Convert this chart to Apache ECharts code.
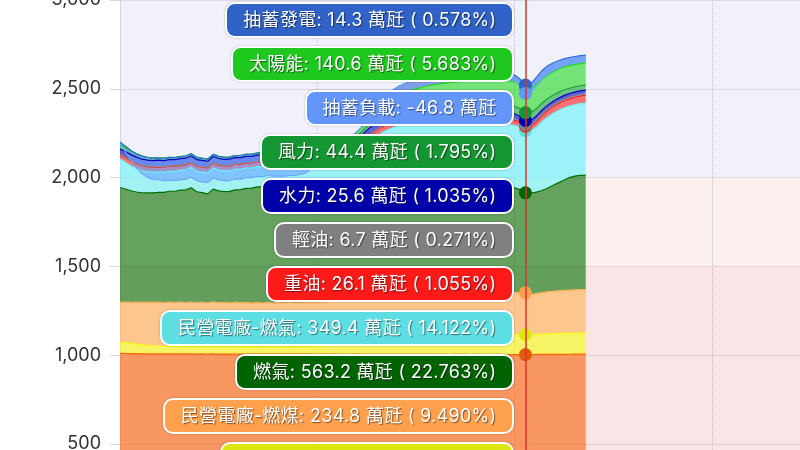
<!DOCTYPE html>
<html>
<head>
<meta charset="utf-8">
<script src="https://cdn.jsdelivr.net/npm/echarts@6.0.0/dist/echarts.min.js"></script>
<style>
html,body{margin:0;padding:0;overflow:hidden;background:#fff;}
#main{width:800px;height:450px;overflow:hidden;position:relative;}
.tipbox{box-sizing:border-box;border:2px solid #fff;border-radius:10px;padding:5px 16px;margin-bottom:8px;
  color:#fff;font-size:18px;line-height:22px;letter-spacing:0.3px;white-space:nowrap;text-shadow:1px 1px 1px rgba(0,0,0,0.5);
  box-shadow:0 0 2px rgba(0,0,0,0.3);font-family:Inter,"Noto Sans CJK TC",sans-serif;}
.tipwrap{display:flex;flex-direction:column;align-items:flex-end;}
</style>
</head>
<body>
<div id="main"></div>
<script>
// ---------- categories (10-minute slots over one day) ----------
const times = [
"00:00","00:10","00:20","00:30","00:40","00:50","01:00","01:10","01:20","01:30","01:40","01:50",
"02:00","02:10","02:20","02:30","02:40","02:50","03:00","03:10","03:20","03:30","03:40","03:50",
"04:00","04:10","04:20","04:30","04:40","04:50","05:00","05:10","05:20","05:30","05:40","05:50",
"06:00","06:10","06:20","06:30","06:40","06:50","07:00","07:10","07:20","07:30","07:40","07:50",
"08:00","08:10","08:20","08:30","08:40","08:50","09:00","09:10","09:20","09:30","09:40","09:50",
"10:00","10:10","10:20","10:30","10:40","10:50","11:00","11:10","11:20","11:30","11:40","11:50",
"12:00","12:10","12:20","12:30","12:40","12:50","13:00","13:10","13:20","13:30","13:40","13:50",
"14:00","14:10","14:20","14:30","14:40","14:50","15:00","15:10","15:20","15:30","15:40","15:50",
"16:00","16:10","16:20","16:30","16:40","16:50","17:00","17:10","17:20","17:30","17:40","17:50",
"18:00","18:10","18:20","18:30","18:40","18:50","19:00","19:10","19:20","19:30","19:40","19:50",
"20:00","20:10","20:20","20:30","20:40","20:50","21:00","21:10","21:20","21:30","21:40","21:50",
"22:00","22:10","22:20","22:30","22:40","22:50","23:00","23:10","23:20","23:30","23:40","23:50",
"24:00"
];

// ---------- series values (萬瓩), stacked bottom -> top ----------
const nuclear = [
286.1,286.0,286.2,286.1,285.9,286.0,286.1,285.8,285.9,286.0,
286.1,286.2,286.0,285.9,285.8,286.0,286.1,285.9,285.8,285.9,
286.0,285.9,285.8,285.7,285.9,286.0,285.8,285.9,285.7,285.8,
285.9,286.0,285.8,285.7,285.9,285.8,285.6,285.7,285.9,285.8,
285.7,285.6,285.8,285.9,285.7,285.6,285.8,285.7,285.6,285.8,
285.9,285.7,285.6,285.8,285.7,285.9,285.8,285.6,285.7,285.8,
285.6,285.7,285.9,285.8,285.7,285.6,285.8,285.7,285.9,285.8,
285.6,285.7,285.8,285.6,285.7,285.7,285.8,285.6,285.7,285.9,
285.8,285.7,285.6,285.8,285.7,285.6];
const coal = [
723.9,723.2,722.6,722.0,721.5,721.1,720.8,721.3,720.9,721.4,
720.7,721.2,720.6,721.0,720.4,720.9,720.3,720.8,720.2,720.6,
720.1,720.5,719.9,720.4,719.8,720.2,719.7,720.1,719.6,720.0,
719.5,719.9,719.4,719.8,719.3,719.7,719.2,719.6,719.1,719.5,
719.0,719.4,718.9,719.3,718.8,719.2,718.7,719.1,718.6,719.0,
718.5,718.9,718.4,718.8,718.3,718.7,718.2,718.6,718.1,718.5,
718.0,718.4,717.9,718.3,717.8,718.2,717.7,718.1,717.6,718.0,
717.5,717.9,717.4,717.8,717.6,717.8,718.1,718.3,718.6,718.8,
719.0,719.1,719.3,719.4,719.5,719.6];
const cogen = [
63.0,60.5,57.0,53.5,50.0,47.5,45.5,44.0,43.0,42.5,
42.0,42.3,41.8,42.1,41.6,41.9,41.5,41.8,41.4,41.7,
41.3,41.6,41.2,41.5,41.1,41.4,41.0,41.3,41.1,41.4,
41.2,41.5,41.3,41.6,41.8,42.3,43.0,45.0,48.0,52.0,
56.0,61.0,66.0,71.0,76.0,81.0,85.0,89.0,92.0,95.0,
97.5,99.5,101.0,102.5,104.0,105.0,106.0,107.0,107.8,108.5,
109.0,109.6,110.0,110.4,110.8,111.1,111.4,111.7,112.0,112.2,
112.4,112.5,112.6,112.5,112.6,113.4,114.2,115.0,115.9,116.7,
117.4,118.0,118.6,119.1,119.5,119.8];
const ippCoal = [
225.0,228.5,232.0,236.5,240.0,243.5,245.0,247.5,246.0,248.5,
247.0,249.5,246.5,250.0,247.5,249.0,246.0,251.5,247.0,249.5,
246.5,250.0,247.5,249.0,246.5,248.0,247.0,249.5,246.5,248.5,
247.0,249.0,246.5,248.0,247.5,248.5,247.0,246.5,247.5,246.0,
246.5,245.5,246.0,245.0,244.5,245.0,244.0,243.5,244.0,243.0,
242.5,243.0,242.0,241.5,242.0,241.0,240.5,241.0,240.0,239.5,
240.0,239.0,238.5,239.0,238.0,237.5,238.0,237.0,236.5,237.0,
236.0,235.5,236.0,235.5,234.8,225.0,228.5,233.0,236.0,238.5,
240.0,241.5,242.5,243.5,244.0,244.5];
const lng = [
646.0,637.5,628.0,620.5,617.0,615.5,616.0,618.5,621.0,624.5,
627.0,630.5,636.0,643.5,625.0,617.0,614.5,635.0,630.5,623.0,
628.5,633.0,638.0,642.5,647.0,651.5,654.0,655.0,653.5,652.0,
650.5,649.0,648.5,647.0,646.5,646.0,645.0,643.5,642.0,640.0,
638.0,635.5,632.0,628.5,625.0,624.0,623.0,622.0,621.0,620.0,
619.0,618.0,617.0,616.0,615.0,614.0,613.0,612.0,611.0,610.0,
609.0,608.0,607.0,606.0,604.5,603.0,601.5,600.0,598.0,597.0,
596.0,593.5,590.0,581.0,563.2,571.1,571.5,575.0,583.8,595.3,
607.9,620.7,633.9,640.3,644.3,642.4];
const ippLng = [
160.0,150.5,141.0,132.5,124.0,119.5,116.0,114.5,113.0,112.0,
111.5,110.5,112.0,113.5,115.0,116.5,117.5,118.0,117.0,116.5,
115.5,116.0,114.5,115.0,113.5,114.0,113.0,112.5,113.5,112.0,
112.5,113.0,114.0,115.5,116.0,117.0,117.5,121.0,125.0,132.0,
140.0,152.0,168.0,188.0,210.0,235.0,258.0,278.0,295.0,308.0,
320.0,328.0,335.0,340.0,345.0,347.5,350.0,351.5,353.0,354.0,
355.0,355.5,356.0,356.5,357.0,357.0,357.0,356.5,356.0,355.5,
355.0,354.0,353.0,351.0,349.4,349.2,366.8,388.3,399.6,405.1,
407.7,406.9,402.4,401.8,403.2,407.9];
const fuelOil = [
24.0,25.5,26.5,27.5,28.0,28.3,28.1,28.4,28.2,28.5,
28.3,28.6,28.4,28.2,28.5,28.3,28.6,28.4,28.2,28.5,
28.3,28.1,28.4,28.2,28.0,28.3,28.1,28.4,28.2,28.0,
28.3,28.1,28.4,28.6,28.5,28.8,29.0,29.2,29.5,29.8,
30.0,30.3,30.5,30.8,31.0,31.2,31.4,31.6,31.8,32.0,
32.2,32.4,32.5,32.7,32.8,32.9,33.0,33.1,33.1,33.2,
33.2,33.1,33.0,32.8,32.6,32.3,32.0,31.6,31.2,30.7,
30.2,29.6,28.9,27.6,26.1,28.0,31.0,34.0,37.0,39.0,
40.0,41.0,42.5,43.5,44.3,45.0];
const diesel = [
3.1,3.0,3.0,2.9,2.9,2.8,2.8,2.8,2.7,2.7,
2.7,2.7,2.6,2.6,2.6,2.6,2.6,2.5,2.5,2.5,
2.5,2.5,2.5,2.5,2.5,2.6,2.6,2.6,2.7,2.7,
2.8,2.8,2.9,3.0,3.1,3.2,3.3,3.4,3.5,3.6,
3.7,3.8,3.9,4.1,4.3,4.5,4.7,4.9,5.1,5.3,
5.5,5.6,5.7,5.8,5.9,6.0,6.1,6.1,6.2,6.2,
6.3,6.3,6.4,6.4,6.4,6.5,6.5,6.5,6.6,6.6,
6.6,6.6,6.6,6.7,6.7,6.7,6.6,6.5,6.4,6.3,
6.2,6.1,6.1,6.0,6.0,6.0];
const hydro = [
30.0,31.5,32.8,33.6,34.2,34.5,34.8,35.0,34.6,34.9,
35.2,34.8,35.1,34.7,35.0,34.6,34.9,34.5,34.8,34.4,
34.7,34.3,34.6,34.2,34.5,34.1,34.4,34.0,34.3,34.0,
34.2,34.0,34.3,34.5,34.8,35.0,35.3,35.6,36.0,36.5,
37.0,37.6,38.2,38.8,39.4,40.0,40.5,41.0,41.4,41.7,
42.0,42.2,42.3,42.4,42.4,42.3,42.1,41.9,41.6,41.2,
40.8,40.2,39.6,38.9,38.1,37.2,36.2,35.1,33.9,32.6,
31.3,30.0,28.7,27.2,25.6,25.0,24.5,24.0,23.5,23.0,
22.8,22.5,22.3,22.2,22.1,22.0];
const wind = [
24.0,22.1,20.4,18.6,17.0,15.8,14.6,13.9,13.1,12.6,
12.2,11.9,12.4,12.8,12.3,11.8,11.5,11.9,12.2,11.7,
11.3,11.6,12.0,12.4,12.1,11.8,12.3,12.7,13.2,13.6,
14.0,14.3,14.7,15.0,15.2,15.5,15.9,16.3,16.8,17.2,
17.7,18.2,18.8,19.5,20.3,21.1,22.0,22.9,23.8,24.7,
25.6,26.5,27.4,28.3,29.2,30.1,31.0,31.9,32.8,33.6,
34.4,35.2,36.0,36.8,37.6,38.3,39.0,39.7,40.4,41.0,
41.6,42.2,42.9,43.6,44.4,43.0,41.0,39.0,37.0,35.0,
33.0,31.5,30.0,29.0,28.5,28.0];
const solar = [
0,0,0,0,0,0,0,0,0,0,
0,0,0,0,0,0,0,0,0,0,
0,0,0,0,0,0,0,0,0,0,
0,0,0,0,0,0,0.1,0.6,2.0,4.1,
7.0,10.6,14.8,19.5,24.6,30.0,35.6,41.3,47.0,52.8,
58.5,64.0,69.4,74.6,79.5,84.2,88.6,92.8,96.7,100.4,
103.8,107.0,110.0,112.8,115.4,117.8,120.1,122.5,125.5,128.6,
131.8,134.9,137.6,139.5,140.6,138.5,136.8,135.1,133.2,131.4,
129.9,128.3,126.8,125.6,124.7,124.0];
const pumpGen = [
15.0,8.2,3.1,0,0,0,0,0,0,0,
0,0,0,0,0,0,0,0,0,0,
0,0,0,0,0,0,0,0,0,0,
0,0,0,0,0,0,0,0,0,0,
0,0,0,0,0,0,10.0,22.0,34.0,44.0,
50.0,52.0,53.0,53.0,52.5,52.0,51.0,50.0,49.0,48.0,
47.0,46.5,46.0,45.5,45.0,45.5,46.0,46.5,47.0,46.0,
45.0,43.0,38.0,27.0,14.3,25.0,40.0,48.0,52.0,50.0,
48.0,47.0,46.0,45.5,45.0,45.0];
const pumpLoad = [
-12.0,-31.5,-55.0,-78.5,-98.0,-112.0,-120.5,-124.0,-126.5,-128.0,
-129.5,-130.0,-131.2,-130.6,-131.8,-132.4,-131.0,-132.6,-133.1,-132.0,
-131.4,-132.8,-133.5,-132.2,-131.6,-130.8,-131.9,-130.4,-129.7,-128.5,
-127.6,-126.0,-123.4,-119.0,-112.0,-85.0,-55.0,-28.0,-8.0,0,
0,0,0,0,0,0,0,0,0,0,
0,0,0,0,0,0,0,0,0,0,
0,0,0,0,0,0,0,0,0,0,
-8.0,-18.0,-29.0,-39.0,-46.8,-49.5,-50.2,-48.6,-46.0,-43.5,
-41.0,-38.4,-36.1,-34.0,-32.2,-30.5];

// stacking order (bottom -> top)
const seriesNames = ['核能','燃煤','汽電共生','民營電廠-燃煤','燃氣','民營電廠-燃氣','重油','輕油','水力','風力','太陽能','抽蓄發電','抽蓄負載'];
const seriesValues = [nuclear, coal, cogen, ippCoal, lng, ippLng, fuelOil, diesel, hydro, wind, solar, pumpGen, pumpLoad];
const seriesColors = ['#a569bd','#e05a08','#dde60e','#ffa04d','#006400','#5cdee2','#ff1a1a','#808080','#0000aa','#149632','#1ec81e','#3062c8','#6496fa'];
// tooltip listing order (top -> bottom)
const tooltipOrder = ['抽蓄發電','太陽能','抽蓄負載','風力','水力','輕油','重油','民營電廠-燃氣','燃氣','民營電廠-燃煤','汽電共生','燃煤','核能'];
// background bands on the value axis
const bandEdges = [0, 1500, 2000, 3000];
const bandColors = ['rgba(230,150,150,0.25)','rgba(240,180,170,0.2)','rgba(200,200,240,0.25)'];
const focusIndex = 74; // 12:20

const colorOf = {};
seriesNames.forEach(function (n, k) { colorOf[n] = seriesColors[k]; });

const chart = echarts.init(document.getElementById('main'));

const series = seriesNames.map(function (name, k) {
  const s = {
    name: name,
    type: 'line',
    stack: 'gen',
    stackStrategy: 'all',
    data: seriesValues[k],
    itemStyle: { color: seriesColors[k] },
    showSymbol: false,
    symbol: 'circle',
    symbolSize: 13,
    lineStyle: { width: 1.2, color: seriesColors[k] },
    areaStyle: { color: seriesColors[k], opacity: 0.6 },
    emphasis: { scale: false, focus: 'none', lineStyle: { width: 1.2 }, areaStyle: { opacity: 0.6 } },
    animation: false
  };
  if (k === 0) {
    s.markArea = {
      silent: true,
      data: bandColors.map(function (c, b) {
        return [{ yAxis: bandEdges[b], itemStyle: { color: c } }, { yAxis: bandEdges[b + 1] }];
      })
    };
  }
  return s;
});

chart.setOption({
  animation: false,
  backgroundColor: '#fff',
  grid: { left: 120, top: 0, width: 789, height: 532.7, outerBoundsMode: 'none', containLabel: false },
  xAxis: {
    type: 'category',
    data: times,
    boundaryGap: false,
    axisLine: { show: false },
    axisTick: { show: false },
    axisLabel: { show: false },
    splitLine: {
      show: true,
      interval: function (idx) { return idx % 36 === 0; },
      lineStyle: { color: '#c4c4c4', type: 'dotted', width: 1 }
    }
  },
  yAxis: {
    type: 'value',
    min: 0, max: 3000, interval: 500,
    axisLine: { show: true, lineStyle: { color: '#d8d8d8' } },
    axisTick: { show: true, length: 10, lineStyle: { color: '#d8d8d8' } },
    axisLabel: {
      margin: 19, color: '#333', fontSize: 18, fontFamily: 'Inter, Roboto, sans-serif',
      formatter: function (v) { return v.toLocaleString('en-US'); }
    },
    splitLine: { lineStyle: { color: '#e2e2e2', width: 1 } }
  },
  tooltip: {
    trigger: 'axis',
    triggerOn: 'none',
    alwaysShowContent: true,
    showDelay: 0, hideDelay: 0, transitionDuration: 0,
    backgroundColor: 'transparent', borderWidth: 0, padding: 0,
    extraCssText: 'box-shadow:none;',
    axisPointer: { type: 'line', animation: false, lineStyle: { color: '#d9342b', width: 1.5, type: 'solid' } },
    position: function (point, params, dom, rect, size) {
      return [point[0] - size.contentSize[0] - 11, 2];
    },
    formatter: function (params) {
      const byName = {};
      let total = 0;
      params.forEach(function (p) {
        byName[p.seriesName] = p;
        if (typeof p.value === 'number') total += p.value;
      });
      let html = '<div class="tipwrap">';
      tooltipOrder.forEach(function (name) {
        const p = byName[name];
        if (!p || typeof p.value !== 'number') return;
        const v = p.value;
        let txt = name + ': ' + v.toFixed(1) + ' 萬瓩';
        if (v >= 0) txt += ' ( ' + (v / total * 100).toFixed(3) + '%)';
        html += '<div class="tipbox" style="background-color:' + colorOf[name] + ';">' + txt + '</div>';
      });
      return html + '</div>';
    }
  },
  series: series
});

chart.dispatchAction({ type: 'showTip', seriesIndex: 0, dataIndex: focusIndex });
</script>
</body>
</html>
